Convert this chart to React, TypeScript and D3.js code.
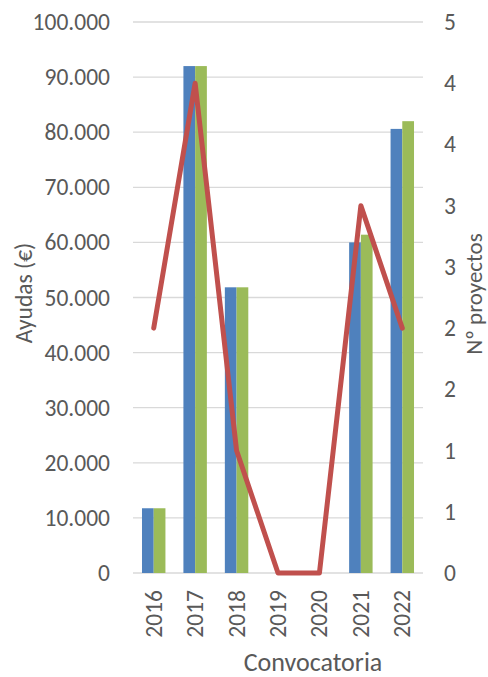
import React from "react";
import * as d3 from "d3";

const categories = ["2016", "2017", "2018", "2019", "2020", "2021", "2022"];
const ayudasA = [11750, 92000, 51850, 0, 0, 60000, 80600];
const ayudasB = [11750, 92000, 51850, 0, 0, 61400, 82000];
const proyectos = [2, 4, 1, 0, 0, 3, 2];
const leftTicks = [0, 10000, 20000, 30000, 40000, 50000, 60000, 70000, 80000, 90000, 100000];
const rightTicks = [0, 0.5, 1, 1.5, 2, 2.5, 3, 3.5, 4, 4.5];

const W = 488;
const H = 677;
const L = 133;
const R = 423;
const T = 22;
const B = 573;
const FONT = "Calibri, Carlito, 'Open Sans', sans-serif";
const TXT = "#595959";
const TICK_FS = 23.5;

const locale = d3.formatLocale({ decimal: ",", thousands: ".", grouping: [3], currency: ["", "€"] });
const fmt = locale.format(",d");

export default function App() {
  const x = d3.scaleBand<string>().domain(categories).range([L, R]).padding(0);
  const yL = d3.scaleLinear().domain([0, 100000]).range([B, T]);
  const yR = d3.scaleLinear().domain([0, 4.5]).range([B, T]);
  const bw = x.step() * 0.283;
  const cx = (c: string) => (x(c) as number) + x.bandwidth() / 2;
  const line = d3
    .line<number>()
    .x((_, i) => cx(categories[i]))
    .y((d) => yR(d));

  return (
    <svg
      width={W}
      height={H}
      style={{ position: "absolute", left: 0, top: 0, background: "#fff" }}
      fontFamily={FONT}
    >
      <rect x={0} y={0} width={W} height={H} fill="#fff" />
      {leftTicks.map((t) => (
        <line key={"g" + t} x1={L} x2={R} y1={yL(t)} y2={yL(t)} stroke="#D9D9D9" strokeWidth={1.3} />
      ))}
      {leftTicks.map((t) => (
        <text
          key={"l" + t}
          x={110}
          y={yL(t)}
          textAnchor="end"
          dominantBaseline="central"
          fontSize={TICK_FS}
          fill={TXT}
        >
          {fmt(t)}
        </text>
      ))}
      {rightTicks.map((t) => (
        <text
          key={"r" + t}
          x={444}
          y={yR(t)}
          textAnchor="start"
          dominantBaseline="central"
          fontSize={TICK_FS}
          fill={TXT}
        >
          {Math.round(t)}
        </text>
      ))}
      {categories.map((c, i) => (
        <g key={"b" + c}>
          <rect x={cx(c) - bw} y={yL(ayudasA[i])} width={bw} height={B - yL(ayudasA[i])} fill="#4F81BD" />
          <rect x={cx(c)} y={yL(ayudasB[i])} width={bw} height={B - yL(ayudasB[i])} fill="#9BBB59" />
        </g>
      ))}
      <path
        d={line(proyectos) || ""}
        fill="none"
        stroke="#C0504D"
        strokeWidth={5}
        strokeLinejoin="round"
        strokeLinecap="round"
      />
      {categories.map((c) => (
        <text
          key={"x" + c}
          transform={`translate(${cx(c)},590) rotate(-90)`}
          textAnchor="end"
          dominantBaseline="central"
          fontSize={TICK_FS}
          fill={TXT}
        >
          {c}
        </text>
      ))}
      <text
        transform={`translate(32,293) rotate(-90)`}
        textAnchor="middle"
        fontSize={23.5}
        fill={TXT}
      >
        Ayudas (€)
      </text>
      <text
        transform={`translate(482,294) rotate(-90)`}
        textAnchor="middle"
        fontSize={23}
        fill={TXT}
      >
        Nº proyectos
      </text>
      <text x={313} y={671} textAnchor="middle" fontSize={26} fill={TXT}>
        Convocatoria
      </text>
    </svg>
  );
}
